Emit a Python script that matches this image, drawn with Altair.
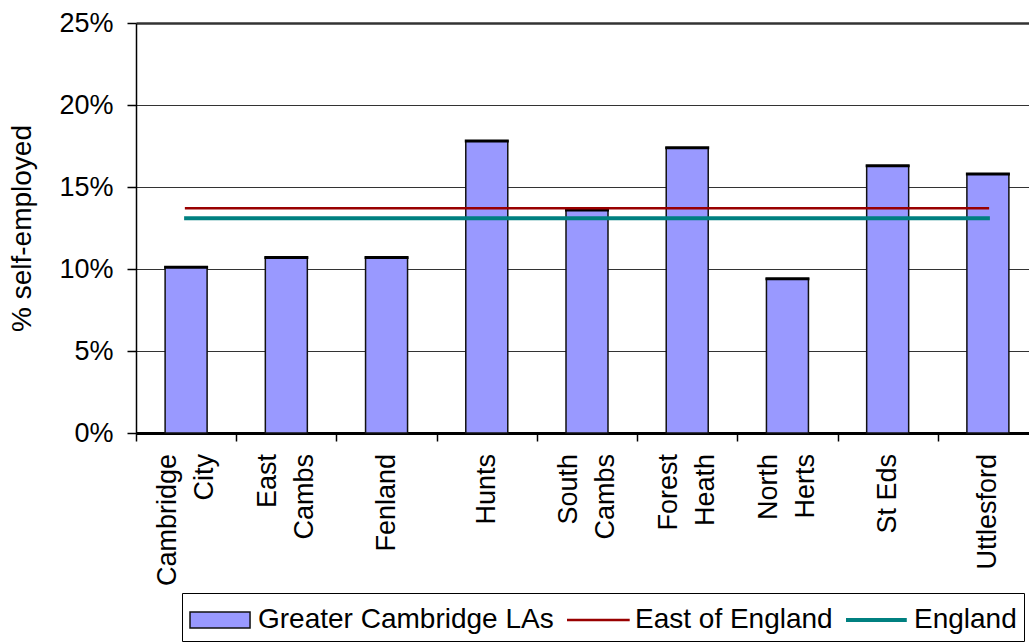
import altair as alt
import pandas as pd

categories = ["Cambridge City", "East Cambs", "Fenland", "Hunts", "South Cambs",
              "Forest Heath", "North Herts", "St Eds", "Uttlesford"]
self_employed = [10.1, 10.7, 10.7, 17.8, 13.6, 17.4, 9.4, 16.3, 15.8]
east_of_england = [13.7] * len(categories)
england = [13.1] * len(categories)
single_line_labels = ["Fenland", "Hunts", "St Eds", "Uttlesford"]

series_names = ["Greater Cambridge LAs", "East of England", "England"]
series_fill = ["#9999FF", "#990000", "#008080"]
series_stroke = ["#111111", "transparent", "transparent"]
series_shape = [
    "M-1,-0.42H2.16V0.42H-1Z",
    "M-1,-0.066H2.3V0.066H-1Z",
    "M-1,-0.105H2.2V0.105H-1Z",
]
y_ticks = [0, 5, 10, 15, 20, 25]

bars_df = pd.DataFrame({"category": categories, "value": self_employed})
eoe_df = pd.DataFrame({"category": categories, "value": east_of_england})
eng_df = pd.DataFrame({"category": categories, "value": england})
leg_df = pd.DataFrame({"series": series_names})

single_df = pd.DataFrame({"category": [c for c in categories if c in single_line_labels]})
single_df["text"] = single_df["category"]
double_cats = [c for c in categories if c not in single_line_labels]
first_df = pd.DataFrame({"category": double_cats, "text": [c.split(" ")[0] for c in double_cats]})
second_df = pd.DataFrame({"category": double_cats, "text": [c.split(" ")[1] for c in double_cats]})

FONT = "Liberation Sans"

x_enc = alt.X(
    "category:N",
    sort=categories,
    scale=alt.Scale(paddingInner=0, paddingOuter=0, range=[0, 902]),
    axis=alt.Axis(
        title=None,
        tickBand="extent",
        labels=False,
        tickSize=8,
        tickWidth=1.5,
        tickColor="#000000",
        domainWidth=3,
        domainColor="#000000",
    ),
)

y_scale = alt.Scale(domain=[0, 25], nice=False, zero=True)
y_axis = alt.Axis(
    title="% self-employed",
    values=y_ticks,
    labelExpr="datum.value + '%'",
    labelFontSize=27,
    labelFont=FONT,
    labelColor="#000000",
    labelPadding=14,
    tickSize=9,
    tickWidth=1.5,
    tickColor="#000000",
    domainColor="#000000",
    domainWidth=1.5,
    grid=True,
    gridColor="#333333",
    gridWidth=alt.ConditionalAxisNumber(
        condition={"test": "datum.value >= 25", "value": 2.5}, value=1.2
    ),
    titleFontSize=28,
    titleFont=FONT,
    titleFontWeight="normal",
    titleColor="#000000",
    titlePadding=22,
)

bars = alt.Chart(bars_df).mark_bar(
    size=42, color="#9999FF", stroke="#111111", strokeWidth=1.5
).encode(
    x=x_enc,
    y=alt.Y("value:Q", scale=y_scale, axis=y_axis),
)

caps = alt.Chart(bars_df).mark_tick(
    size=44, thickness=3, color="#000000", opacity=1
).encode(
    x=alt.X("category:N", sort=categories),
    y=alt.Y("value:Q"),
)

eoe_line = alt.Chart(eoe_df).mark_line(
    color="#990000", strokeWidth=2.5, strokeCap="square"
).encode(
    x=alt.X("category:N", sort=categories),
    y=alt.Y("value:Q"),
)

eng_line = alt.Chart(eng_df).mark_line(
    color="#008080", strokeWidth=4, strokeCap="square"
).encode(
    x=alt.X("category:N", sort=categories),
    y=alt.Y("value:Q"),
)


def label_layer(df, dy):
    return alt.Chart(df).mark_text(
        angle=270, align="right", baseline="middle", dx=-21, dy=dy,
        fontSize=27, font=FONT, color="#000000",
    ).encode(
        x=alt.X("category:N", sort=categories),
        y=alt.datum(0),
        text="text:N",
    )


labels_single = label_layer(single_df, 0)
labels_first = label_layer(first_df, -18.5)
labels_second = label_layer(second_df, 18.5)

legend_layer = alt.Chart(leg_df).transform_filter("false").mark_point(
    filled=True, size=1444, opacity=1, strokeWidth=1.5
).encode(
    fill=alt.Fill(
        "series:N",
        scale=alt.Scale(domain=series_names, range=series_fill),
        legend=alt.Legend(
            title=None,
            orient="none",
            legendX=46,
            legendY=570,
            direction="horizontal",
            columns=3,
            strokeColor="#000000",
            padding=7,
            labelFontSize=28,
            labelFont=FONT,
            labelColor="#000000",
            labelOffset=29,
            labelLimit=400,
            columnPadding=10,
            symbolSize=1444,
            symbolStrokeWidth=1.5,
        ),
    ),
    stroke=alt.Stroke(
        "series:N",
        scale=alt.Scale(domain=series_names, range=series_stroke),
    ),
    shape=alt.Shape(
        "series:N",
        scale=alt.Scale(domain=series_names, range=series_shape),
    ),
)

chart = alt.layer(
    bars, caps, eoe_line, eng_line, labels_single, labels_first, labels_second, legend_layer
).properties(
    width=893,
    height=410,
    padding={"left": 136, "top": 23, "right": 0, "bottom": 209},
    autosize=alt.AutoSizeParams(type="none"),
    background="#ffffff",
).configure_view(
    stroke="transparent"
).configure_legend(
    symbolSize=1444,
    labelFontSize=28,
    labelFont=FONT,
)

chart.save("out.html", embed_options={"renderer": "svg", "actions": False})
